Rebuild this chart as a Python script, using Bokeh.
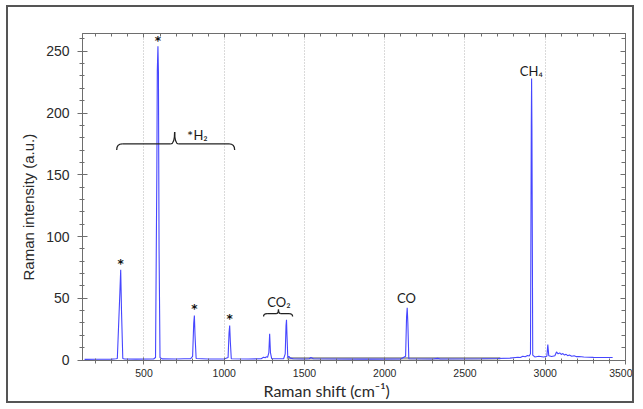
from bokeh.plotting import figure
from bokeh.models import (Range1d, LinearAxis, CustomJSTickFormatter, Title,
                          SingleIntervalTicker, ColumnDataSource)
from bokeh.core.properties import value
from bokeh.embed import file_html
from bokeh.resources import INLINE

# ---- spectrum ----
shift = [130, 200, 300, 325, 334, 350, 355, 360, 368, 380, 450, 560, 572, 580, 583, 587,
         590, 594, 600, 612, 700, 750, 790, 803, 810, 814, 818, 825, 900, 1000, 1024,
         1030, 1034, 1038, 1044, 1150, 1230, 1245, 1255, 1262, 1270, 1278, 1283, 1288,
         1296, 1370, 1380, 1385, 1388, 1391, 1396, 1403, 1412, 1430, 1500, 1530, 1540,
         1555, 1700, 1900, 2100, 2130, 2136, 2140, 2144, 2150, 2300, 2330, 2345, 2600,
         2700, 2780, 2830, 2845, 2860, 2875, 2890, 2900, 2908, 2913, 2915, 2917, 2922,
         2935, 2960, 2990, 3010, 3016, 3022, 3040, 3060, 3070, 3080, 3090, 3100, 3110,
         3120, 3130, 3140, 3150, 3165, 3180, 3195, 3210, 3240, 3300, 3420]
intensity = [0.5, 0.6, 0.7, 1.0, 1.2, 55, 73, 40, 1.2, 0.8, 0.7, 0.8, 2, 150, 234, 254,
             234, 90, 2, 0.9, 0.8, 1.0, 1.0, 3, 30, 36, 20, 1.2, 0.8, 0.8, 2,
             22, 28, 15, 1, 0.8, 1.0, 2.2, 1.8, 2.6, 2.2, 6, 21.2, 6,
             1, 1, 5, 28, 32.5, 20, 2, 3, 1.5, 1, 0.8, 1, 2,
             1, 0.8, 0.7, 0.8, 3, 35, 42.2, 30, 1, 0.8, 1.3, 0.8, 1.0,
             1.2, 1.5, 2.2, 2.0, 3.0, 2.6, 3.6, 3.2, 5, 189, 228, 188, 4,
             2.5, 3, 2.4, 3, 12.5, 3.5, 2.8, 3.5, 6.5, 5, 5.8, 4.5, 5.2,
             4, 4.6, 3.5, 4, 3, 3.4, 2.7, 2.9, 2.4, 2.1, 2.0]

# faint grey reference trace near zero
grey_shift = [1390, 2720]
grey_intensity = [1.4, 1.4]

# H2 peak markers
star_x = [355, 587, 814, 1034]
star_y = [78, 258, 41, 33]

# annotations
ann_text = ["H₂", "CO₂", "CO", "CH₄"]
ann_x = [808, 1341, 2135, 2913]
ann_y = [182.4, 47.3, 50.5, 234]
ann_align = ["left", "center", "center", "center"]
small_star_x = [788]
small_star_y = [182.4]

# braces: x0, x1, xm, y, drop, tip, hook width, tip width
braces = [
    (330, 1065, 691, 175, 4.9, 9.7, 35, 25),
    (1245, 1426, 1338, 37.6, 2.4, 3.4, 22, 15),
]

AX = "#6e6e6e"
TXT = "#2a2a2a"

p = figure(width=628, height=398, x_range=Range1d(117, 3500), y_range=Range1d(-0.4, 264.4),
           output_backend="svg", toolbar_location=None,
           min_border_left=74, min_border_right=11, min_border_top=26, min_border_bottom=45)
p.styles = {"border": "2px solid #555555", "margin-left": "6px", "margin-top": "5px"}
p.outline_line_color = AX
p.background_fill_color = "white"
p.border_fill_color = "white"

xt = SingleIntervalTicker(interval=500, num_minor_ticks=5)
yt = SingleIntervalTicker(interval=50, num_minor_ticks=5)

xa = p.xaxis[0]
xa.ticker = xt
ya = p.yaxis[0]
ya.ticker = yt
for ax in (xa, ya):
    ax.axis_line_color = AX
    ax.major_tick_line_color = AX
    ax.minor_tick_line_color = AX
    ax.major_label_text_font = "Liberation Sans"
    ax.major_label_text_color = TXT
xa.major_tick_in = 3
xa.major_tick_out = 4
xa.minor_tick_in = 2
xa.minor_tick_out = 3
xa.major_label_text_font_size = "10.5px"
xa.major_label_standoff = 4
ya.major_tick_in = 5
ya.major_tick_out = 5
ya.minor_tick_in = 2
ya.minor_tick_out = 3
ya.major_label_text_font_size = "14px"
ya.major_label_standoff = 8

blank = CustomJSTickFormatter(code="return ''")
top = LinearAxis(ticker=xt, formatter=blank, major_tick_in=4, major_tick_out=0,
                 minor_tick_in=3, minor_tick_out=0, axis_line_color=AX,
                 major_tick_line_color=AX, minor_tick_line_color=AX)
right = LinearAxis(ticker=yt, formatter=blank, major_tick_in=5, major_tick_out=0,
                   minor_tick_in=4, minor_tick_out=0, axis_line_color=AX,
                   major_tick_line_color=AX, minor_tick_line_color=AX)
p.add_layout(top, "above")
p.add_layout(right, "right")

xtitle = Title(text="Raman shift (cm⁻¹)", align="left", offset=181, standoff=2,
               vertical_align="top",
               text_font="Lato", text_font_size="16px", text_font_style="normal",
               text_color=TXT)
p.add_layout(xtitle, "below")
ytitle = Title(text="Raman intensity (a.u.)", align="left", offset=80, standoff=14,
               text_font="Liberation Sans", text_font_size="15px", text_font_style="normal",
               text_color=TXT)
p.add_layout(ytitle, "left")

p.ygrid.visible = False
p.xgrid.grid_line_color = "#b4b4b4"
p.xgrid.grid_line_dash = "1 2"
p.xgrid.grid_line_width = 1

p.line(grey_shift, grey_intensity, line_color="#a8a8a8", line_width=2.5)
p.line(shift, intensity, line_color="#4646ff", line_width=1.1)

# stars
p.text(x=star_x, y=star_y, text=["*"] * len(star_x), text_align="center",
       text_baseline="middle", text_font=value("DejaVu Sans"), text_font_style="bold",
       text_font_size="12px", text_color="#111111")
p.text(x=small_star_x, y=small_star_y, text=["*"], text_align="center",
       text_baseline="middle", text_font=value("DejaVu Sans"), text_font_style="bold",
       text_font_size="9px", text_color="#333333")

# labels
src = ColumnDataSource(dict(x=ann_x, y=ann_y, t=ann_text, a=ann_align))
p.text(x="x", y="y", text="t", text_align="a", source=src, text_baseline="middle",
       text_font=value("Lato"), text_font_size="13px", text_color="#1a1a1a")

# braces
for (x0, x1, xm, y, d, t, hw, tw) in braces:
    p.quadratic(x0=[x0, x1], y0=[y - d, y - d], x1=[x0 + hw, x1 - hw], y1=[y, y],
                cx=[x0, x1], cy=[y, y], line_color="#222222", line_width=1.3)
    p.segment(x0=[x0 + hw, xm + tw], y0=[y, y], x1=[xm - tw, x1 - hw], y1=[y, y],
              line_color="#222222", line_width=1.3)
    p.quadratic(x0=[xm - tw, xm + tw], y0=[y, y], x1=[xm, xm], y1=[y + t, y + t],
                cx=[xm, xm], cy=[y, y], line_color="#222222", line_width=1.3)

open("out.html", "w").write(file_html(p, INLINE))
